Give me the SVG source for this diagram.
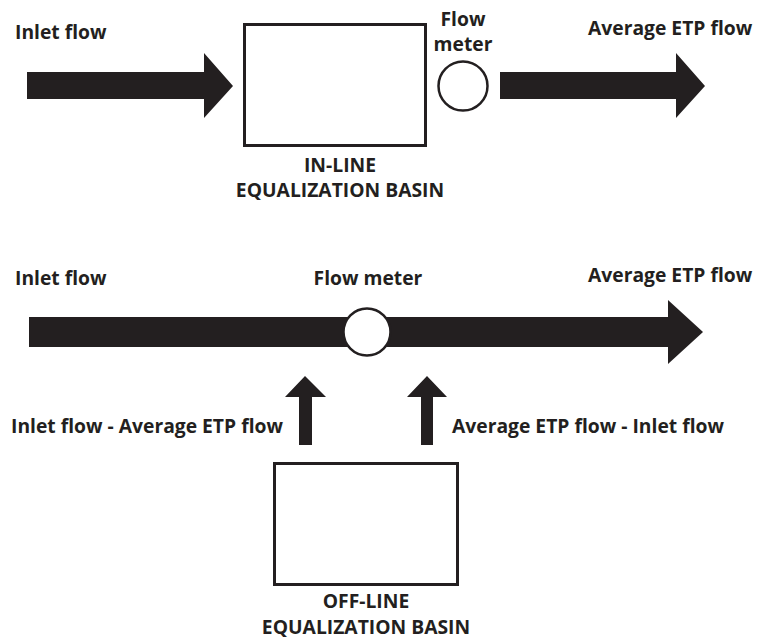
<svg xmlns="http://www.w3.org/2000/svg" width="758" height="641" viewBox="0 0 758 641">
<style>
text{font-family:"Open Sans","Noto Sans","Liberation Sans",sans-serif;font-weight:700;font-size:19.3px;fill:#231f20}
.box{fill:#fff;stroke:#231f20;stroke-width:3}
.meter{fill:#fff;stroke:#231f20;stroke-width:2.5}
.arrow{fill:#231f20}
.m{text-anchor:middle}
</style>
<rect width="758" height="641" fill="#fff"/>
<g id="connectors">
<polygon class="arrow" points="27,72 204,72 204,53 233,86 204,118 204,99 27,99"/>
<polygon class="arrow" points="500,72 676,72 676,53 705,86 676,118 676,99 500,99"/>
<polygon class="arrow" points="29,317 668,317 668,300 703,332 668,364 668,347 29,347"/>
<polygon class="arrow" points="299,445 299,397 285,397 305,376 326,397 312,397 312,445"/>
<polygon class="arrow" points="421,445 421,397 407,397 427,376 447,397 433,397 433,445"/>
</g>
<g id="inlet-label-top"><text x="15" y="39">Inlet flow</text></g>
<g id="inline-basin">
<rect class="box" x="244.5" y="24.5" width="181" height="121"/>
<text class="m" x="340" y="172">IN-LINE</text>
<text class="m" x="340" y="197">EQUALIZATION BASIN</text>
</g>
<g id="flow-meter-top">
<circle class="meter" cx="463" cy="86" r="24.5"/>
<text class="m" x="463" y="26">Flow</text>
<text class="m" x="463" y="51">meter</text>
</g>
<g id="avg-label-top"><text x="588" y="35">Average ETP flow</text></g>
<g id="inlet-label-bottom"><text x="15" y="285">Inlet flow</text></g>
<g id="avg-label-bottom"><text x="588" y="282">Average ETP flow</text></g>
<g id="flow-meter-bottom">
<circle class="meter" cx="367" cy="332" r="23.5"/>
<text class="m" x="368" y="285">Flow meter</text>
</g>
<g id="label-left"><text x="11" y="433">Inlet flow - Average ETP flow</text></g>
<g id="label-right"><text x="452" y="433">Average ETP flow - Inlet flow</text></g>
<g id="offline-basin">
<rect class="box" x="274.5" y="463.5" width="183" height="121"/>
<text class="m" x="366" y="608">OFF-LINE</text>
<text class="m" x="366" y="634">EQUALIZATION BASIN</text>
</g>
</svg>
